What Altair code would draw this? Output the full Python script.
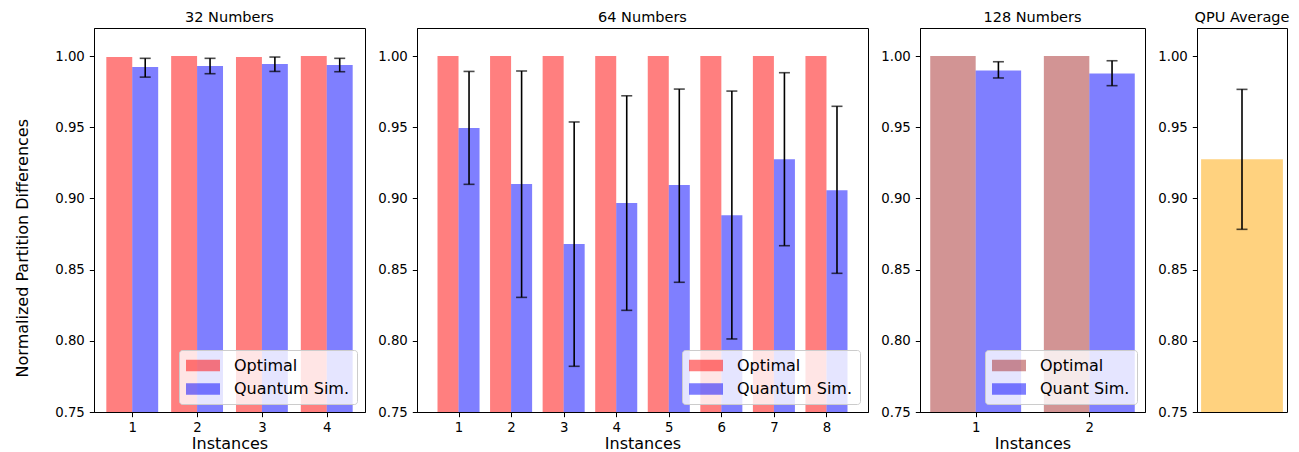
import altair as alt
import pandas as pd

FONT = "DejaVu Sans"

# ---------------- data ----------------
yticks = [0.75, 0.80, 0.85, 0.90, 0.95, 1.00]

inst32 = [1, 2, 3, 4]
opt32 = [0.9993, 1.0000, 0.9993, 1.0000]
qs32 = [0.9923, 0.9930, 0.9944, 0.9937]
qs32_lo = [0.9852, 0.9876, 0.9892, 0.9890]
qs32_hi = [0.9984, 0.9984, 0.9993, 0.9984]

inst64 = [1, 2, 3, 4, 5, 6, 7, 8]
opt64 = [1.0, 1.0, 1.0, 1.0, 1.0, 1.0, 1.0, 1.0]
qs64 = [0.9494, 0.9101, 0.8680, 0.8968, 0.9094, 0.8881, 0.9275, 0.9057]
qs64_lo = [0.9099, 0.8305, 0.7821, 0.8214, 0.8411, 0.8013, 0.8668, 0.8474]
qs64_hi = [0.9892, 0.9895, 0.9537, 0.9721, 0.9768, 0.9754, 0.9883, 0.9647]

inst128 = [1, 2]
opt128 = [1.0, 1.0]
qs128 = [0.9899, 0.9878]
qs128_lo = [0.9846, 0.9792]
qs128_hi = [0.9960, 0.9967]

qpu_inst = [0]
qpu_mean = [0.9275]
qpu_lo = [0.8783]
qpu_hi = [0.9766]

labels_a = ["Optimal", "Quantum Sim."]
labels_b = ["Optimal", "Quant Sim."]

titles = ["32 Numbers", "64 Numbers", "128 Numbers", "QPU Average"]

YDOM = [0.75, 1.0197]
H = 384
BAR_W = 0.4


def yaxis(show_title):
    if show_title:
        return alt.Axis(values=yticks, format=".2f", labelPadding=5,
                        title="Normalized Partition Differences",
                        titleX=-66.6, titleY=219.7, titleBaseline="alphabetic",
                        titleAngle=270, titleAlign="center")
    return alt.Axis(values=yticks, format=".2f", title=None, labelPadding=5)


def ptitle(text):
    return alt.TitleParams(text=text, fontSize=14.5, font=FONT, fontWeight="normal",
                           anchor="middle", baseline="bottom", offset=-11, color="black")


def errlayers(df, xfield, xscale, xaxis, yscale, yax):
    rule = alt.Chart(df).mark_rule(color="black", strokeWidth=1.6).encode(
        x=alt.X(xfield, scale=xscale, axis=xaxis),
        y=alt.Y("lo:Q", scale=yscale, axis=yax), y2="hi:Q")
    cap_lo = alt.Chart(df).mark_tick(orient="horizontal", color="black", size=11,
                                     thickness=1.6).encode(
        x=alt.X(xfield, scale=xscale, axis=xaxis),
        y=alt.Y("lo:Q", scale=yscale, axis=yax))
    cap_hi = alt.Chart(df).mark_tick(orient="horizontal", color="black", size=11,
                                     thickness=1.6).encode(
        x=alt.X(xfield, scale=xscale, axis=xaxis),
        y=alt.Y("hi:Q", scale=yscale, axis=yax))
    return [rule, cap_lo, cap_hi]


def panel(title, inst, opt, qs, lo, hi, labels, opt_color, width, show_ytitle):
    rows = []
    for i, o, q in zip(inst, opt, qs):
        rows.append({"inst": i, "series": labels[0], "value": o, "side": -1})
        rows.append({"inst": i, "series": labels[1], "value": q, "side": 0})
    bars_df = pd.DataFrame(rows)
    err_df = pd.DataFrame({"inst": inst, "lo": lo, "hi": hi})
    err_df["xc"] = err_df["inst"] + BAR_W / 2
    bars_df["x0"] = bars_df["inst"] + bars_df["side"] * BAR_W
    bars_df["x1"] = bars_df["x0"] + BAR_W

    dmin, dmax = min(inst) - BAR_W, max(inst) + BAR_W
    m = 0.05 * (dmax - dmin)
    xscale = alt.Scale(domain=[dmin - m, dmax + m], nice=False, zero=False)
    yscale = alt.Scale(domain=YDOM, nice=False, zero=False, clamp=True)
    xaxis = alt.Axis(values=inst, format="d", title="Instances", titlePadding=1.5,
                     labelPadding=3.5)
    yax = yaxis(show_ytitle)

    bars = alt.Chart(bars_df).mark_bar(opacity=0.5).encode(
        x=alt.X("x0:Q", scale=xscale, axis=xaxis),
        x2="x1:Q",
        y=alt.Y("value:Q", scale=yscale, axis=yax),
        y2=alt.datum(0.75),
        color=alt.Color("series:N",
                        scale=alt.Scale(domain=labels, range=[opt_color, "blue"]),
                        sort=labels,
                        legend=alt.Legend(title=None, orient="bottom-right")),
    )
    layers = [bars] + errlayers(err_df, "xc:Q", xscale, xaxis, yscale, yax)
    return alt.layer(*layers).properties(width=width, height=H, title=ptitle(title))


p1 = panel(titles[0], inst32, opt32, qs32, qs32_lo, qs32_hi, labels_a, "red", 271, True)
p2 = panel(titles[1], inst64, opt64, qs64, qs64_lo, qs64_hi, labels_a, "red", 451, False)
p3 = panel(titles[2], inst128, opt128, qs128, qs128_lo, qs128_hi, labels_b, "brown", 225, False)

# QPU average panel
qdf = pd.DataFrame({"inst": qpu_inst, "value": qpu_mean, "lo": qpu_lo, "hi": qpu_hi})
qdf["x0"] = qdf["inst"] - BAR_W
qdf["x1"] = qdf["inst"] + BAR_W
qx = alt.Scale(domain=[-0.44, 0.44], nice=False, zero=False)
qy = alt.Scale(domain=YDOM, nice=False, zero=False, clamp=True)
qyax = yaxis(False)
qbar = alt.Chart(qdf).mark_bar(color="orange", opacity=0.5).encode(
    x=alt.X("x0:Q", scale=qx, axis=None), x2="x1:Q",
    y=alt.Y("value:Q", scale=qy, axis=qyax), y2=alt.datum(0.75))
p4 = alt.layer(qbar, *errlayers(qdf, "inst:Q", qx, None, qy, qyax)).properties(
    width=90, height=H, title=ptitle(titles[3]))

chart = alt.hconcat(p1, p2, p3, p4, spacing=11).resolve_scale(
    color="independent"
).properties(
    padding={"left": 5, "top": 1, "right": 0, "bottom": 0}
).configure_view(
    stroke="black", strokeWidth=1
).configure_axis(
    grid=False, domainColor="black", domainWidth=1, tickColor="black", tickWidth=1,
    tickSize=4.7, labelFont=FONT, labelFontSize=13.3, labelColor="black",
    titleFont=FONT, titleFontSize=16, titleFontWeight="normal", titleColor="black",
    titlePadding=3.5
).configure_legend(
    fillColor="rgba(255,255,255,0.8)", strokeColor="#cccccc", cornerRadius=3,
    padding=7, labelFont=FONT, labelFontSize=16, labelColor="black",
    symbolType="M-1,-0.69L3,-0.69L3,0.69L-1,0.69Z", symbolSize=289,
    symbolOpacity=0.5, symbolStrokeWidth=0, labelOffset=31, rowPadding=6.5, offset=8
)

chart.save("out.html", embed_options={"renderer": "svg", "actions": False})
